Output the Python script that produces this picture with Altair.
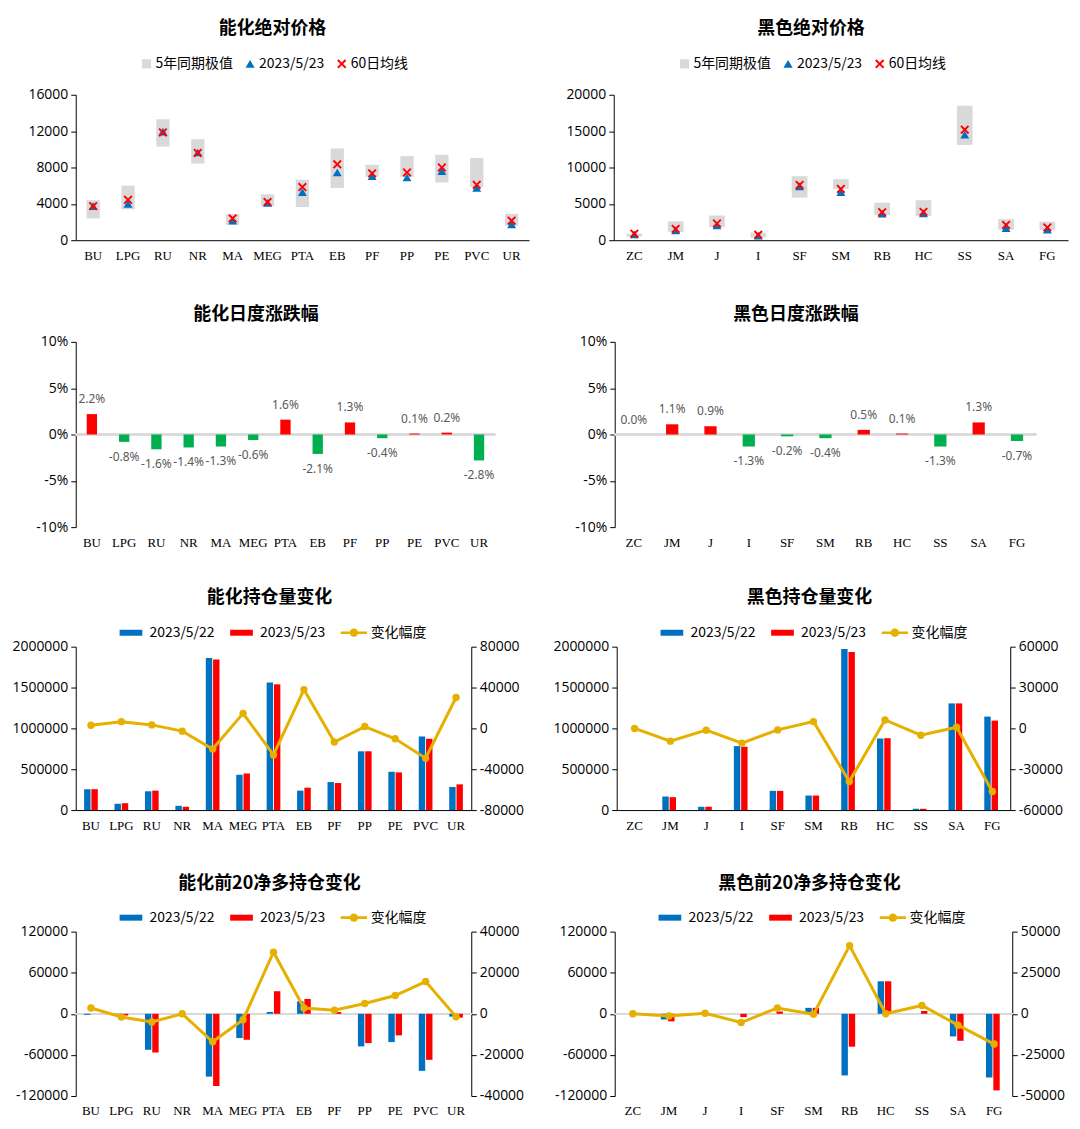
import altair as alt
import pandas as pd

# ---------------- data ----------------
chem_cats = ["BU", "LPG", "RU", "NR", "MA", "MEG", "PTA", "EB", "PF", "PP", "PE", "PVC", "UR"]
black_cats = ["ZC", "JM", "J", "I", "SF", "SM", "RB", "HC", "SS", "SA", "FG"]

# absolute price: 5y range, latest, 60-day MA
chem_hi = [4400, 6000, 13300, 11100, 2900, 5050, 6650, 10100, 8300, 9250, 9400, 9050, 2900]
chem_lo = [2400, 3400, 10300, 8450, 1700, 3750, 3650, 5750, 7000, 6950, 6350, 5850, 1600]
chem_now = [3750, 4000, 11950, 9650, 2150, 4100, 5300, 7450, 7050, 6900, 7600, 5750, 1750]
chem_ma60 = [3750, 4450, 11850, 9600, 2400, 4200, 5850, 8350, 7350, 7450, 8000, 6100, 2150]

black_hi = [900, 2600, 3400, 1050, 8800, 8400, 5150, 5500, 18500, 2900, 2550]
black_lo = [500, 1150, 1800, 370, 5850, 7050, 3450, 3350, 13100, 1450, 1400]
black_now = [800, 1350, 2050, 620, 7400, 6600, 3650, 3700, 14500, 1650, 1450]
black_ma60 = [900, 1550, 2300, 750, 7600, 7050, 3850, 3900, 15200, 2100, 1750]

# daily change (%)
chem_chg = [2.2, -0.8, -1.6, -1.4, -1.3, -0.6, 1.6, -2.1, 1.3, -0.4, 0.1, 0.2, -2.8]
black_chg = [0.0, 1.1, 0.9, -1.3, -0.2, -0.4, 0.5, 0.1, -1.3, 1.3, -0.7]

# open interest
chem_oi_prev = [255000, 77000, 230000, 52000, 1862000, 432000, 1563000, 238000, 343000, 719000, 469000, 901000, 283000]
chem_oi_now = [256000, 84000, 238000, 40000, 1842000, 448000, 1539000, 274000, 331000, 720000, 461000, 873000, 315000]
chem_oi_diff = [3000, 6600, 3400, -2700, -20200, 14700, -26000, 38000, -13400, 1800, -10200, -29200, 30200]

black_oi_prev = [0, 166000, 40000, 783000, 235000, 178000, 1972000, 876000, 16000, 1306000, 1144000]
black_oi_now = [0, 158000, 40000, 775000, 235000, 178000, 1935000, 880000, 16000, 1306000, 1095000]
black_oi_diff = [0, -9400, -1300, -10800, -1100, 5000, -39000, 6200, -5000, 850, -46400]

# top-20 net long
chem_net_prev = [-1500, -500, -52500, 0, -91700, -35400, 2700, 18300, 0, -47600, -41300, -83300, -4100]
chem_net_now = [0, -2500, -56500, 0, -105400, -37900, 33000, 21700, 2700, -42800, -31500, -67200, -5600]
chem_net_diff = [2850, -1550, -4000, 0, -13600, -2850, 30000, 2850, 1700, 5000, 8900, 15700, -1400]

black_net_prev = [0, -8300, 0, 0, 0, 8700, -90000, 47500, 0, -33000, -93000]
black_net_now = [0, -11000, 0, -4800, 3400, 8700, -48000, 47500, 4100, -39400, -111800]
black_net_diff = [0, -1300, 300, -5300, 3500, -300, 41500, 0, 5100, -6900, -18400]

PRICE_SERIES = ["5年同期极值", "2023/5/23", "60日均线"]
OI_SERIES = ["2023/5/22", "2023/5/23", "变化幅度"]

# ---------------- style ----------------
BLUE = "#0070C0"
RED = "#FF0000"
GREEN = "#00B050"
GOLD = "#E6B000"
BOX = "#D9D9D9"
ZERO = "#D9D9D9"
NUM = "Open Sans"
CAT = "Liberation Serif"
CJK = "Noto Sans CJK SC"

XPATH = "M0,-0.3L0.7,-1L1,-0.7L0.3,0L1,0.7L0.7,1L0,0.3L-0.7,1L-1,0.7L-0.3,0L-1,-0.7L-0.7,-1Z"
RECTPATH = "M-1,-0.5L2.8,-0.5L2.8,0.5L-1,0.5Z"
LINEPATH = "M-1,-0.22L3.4,-0.22L3.4,0.22L-1,0.22Z M0.5,0 A0.7,0.7 0 1,1 1.9,0 A0.7,0.7 0 1,1 0.5,0 Z"


def xaxis(domain):
    return alt.Axis(title=None, labelAngle=0, labelFont=CAT, labelFontSize=13, labelColor="black",
                    domain=domain, domainColor="black", domainWidth=1, ticks=False, labelPadding=9)


def yaxis(values, extent, orient="left", expr="'' + datum.value"):
    return alt.Axis(title=None, values=values, orient=orient, grid=False, domain=True,
                    domainColor="black", domainWidth=1, ticks=True, tickColor="black", tickSize=5,
                    labelFont=NUM, labelFontSize=14, labelColor="black", labelPadding=3,
                    labelExpr=expr, minExtent=extent, maxExtent=extent)


def xenc(cats, pad, domain):
    return alt.X("cat:N", sort=cats,
                 scale=alt.Scale(domain=cats, paddingInner=pad, paddingOuter=pad / 2),
                 axis=xaxis(domain))


def ttl(text, offset):
    return alt.TitleParams(text=text, font=CJK, fontSize=18, fontWeight="bold", color="black",
                           anchor="middle", frame="bounds", offset=offset)


def price_panel(title, cats, lo, hi, now, ma, ymax, step, w, h):
    n = len(cats)
    box_df = pd.DataFrame({"cat": cats, "lo": lo, "hi": hi})
    pt_df = pd.DataFrame({"cat": cats + cats,
                          "pseries": [PRICE_SERIES[1]] * n + [PRICE_SERIES[2]] * n,
                          "v": now + ma})
    x = xenc(cats, 0.62, True)
    ysc = alt.Scale(domain=[0, ymax], nice=False)
    yax = yaxis(list(range(0, ymax + 1, step)), 60)
    boxes = alt.Chart(box_df).mark_bar(color=BOX).encode(
        x=x, y=alt.Y("lo:Q", scale=ysc, axis=yax), y2="hi:Q")
    leg = alt.Legend(title=None, orient="none", legendX=64, legendY=-38, direction="horizontal",
                     padding=0, labelFont=CJK, labelFontSize=14, labelColor="black", symbolSize=85,
                     labelOffset=2, columnPadding=10, symbolStrokeWidth=0, symbolOpacity=1)
    pts = alt.Chart(pt_df).mark_point(filled=True, opacity=1, size=80).encode(
        x=x, y=alt.Y("v:Q", scale=ysc, axis=yax),
        color=alt.Color("pseries:N", scale=alt.Scale(domain=PRICE_SERIES, range=[BOX, BLUE, RED]), legend=leg),
        shape=alt.Shape("pseries:N", scale=alt.Scale(domain=PRICE_SERIES, range=["square", "triangle-up", XPATH]),
                        legend=leg))
    return alt.layer(boxes, pts).properties(width=w, height=h, title=ttl(title, 19))


def change_panel(title, cats, vals, w, h):
    df = pd.DataFrame({"cat": cats, "v": vals, "label": [f"{v:.1f}%" for v in vals]})
    x = xenc(cats, 0.68, False)
    ysc = alt.Scale(domain=[-10, 10], nice=False)
    yax = yaxis([-10, -5, 0, 5, 10], 60, expr="datum.value + '%'")
    zero = alt.Chart(df).mark_rule(color=ZERO, strokeWidth=1.5).encode(
        y=alt.YDatum(0, scale=ysc, axis=yax))
    bars = alt.Chart(df).mark_bar().encode(
        x=x, y=alt.Y("v:Q", scale=ysc, axis=yax),
        color=alt.condition(alt.datum.v >= 0, alt.value(RED), alt.value(GREEN)))
    pos = alt.Chart(df).transform_filter(alt.datum.v >= 0).mark_text(
        dy=-15, font="Noto Sans", fontSize=12, color="#595959").encode(
        x=x, y=alt.Y("v:Q", scale=ysc, axis=yax), text="label:N")
    neg = alt.Chart(df).transform_filter(alt.datum.v < 0).mark_text(
        dy=15, font="Noto Sans", fontSize=12, color="#595959").encode(
        x=x, y=alt.Y("v:Q", scale=ysc, axis=yax), text="label:N")
    return alt.layer(zero, bars, pos, neg).properties(width=w, height=h, title=ttl(title, 11))


def oi_panel(title, cats, prev, now, diff, ldom, lvals, rdom, rvals, w, h, zero_line, pad, toff):
    n = len(cats)
    bar_df = pd.DataFrame({"cat": cats + cats,
                           "oseries": [OI_SERIES[0]] * n + [OI_SERIES[1]] * n,
                           "v": prev + now})
    line_df = pd.DataFrame({"cat": cats, "chg": diff})
    leg_df = pd.DataFrame({"cat": [cats[0]] * 3, "oseries": OI_SERIES, "chg": [None] * 3})
    x = xenc(cats, pad, not zero_line)
    lsc = alt.Scale(domain=ldom, nice=False, zero=False)
    rsc = alt.Scale(domain=rdom, nice=False, zero=False)
    lax = yaxis(lvals, 68)
    rax = yaxis(rvals, 60, orient="right")
    cscale = alt.Scale(domain=OI_SERIES, range=[BLUE, RED, GOLD])
    leg = alt.Legend(title=None, orient="none", legendX=43, legendY=-21, direction="horizontal",
                     padding=0, labelFont=CJK, labelFontSize=14, labelColor="black", symbolSize=144,
                     labelOffset=17, columnPadding=14, symbolStrokeWidth=0, symbolOpacity=1)
    bars = alt.Chart(bar_df).mark_bar().encode(
        x=x,
        xOffset=alt.XOffset("oseries:N", sort=OI_SERIES[:2], scale=alt.Scale(paddingInner=0.12)),
        y=alt.Y("v:Q", scale=lsc, axis=lax),
        color=alt.Color("oseries:N", scale=cscale, legend=leg))
    left_layers = [bars]
    if zero_line:
        zero = alt.Chart(line_df).mark_rule(color=ZERO, strokeWidth=1.5).encode(
            y=alt.YDatum(0, scale=lsc, axis=lax))
        left_layers = [zero, bars]
    line = alt.Chart(line_df).mark_line(color=GOLD, strokeWidth=3).encode(
        x=x, y=alt.Y("chg:Q", scale=rsc, axis=rax))
    dots = alt.Chart(line_df).mark_point(filled=True, color=GOLD, opacity=1, size=55).encode(
        x=x, y=alt.Y("chg:Q", scale=rsc, axis=rax))
    legl = alt.Chart(leg_df).mark_point(filled=True, opacity=1).encode(
        x=x, y=alt.Y("chg:Q", scale=rsc, axis=rax),
        color=alt.Color("oseries:N", scale=cscale, legend=leg),
        shape=alt.Shape("oseries:N", scale=alt.Scale(domain=OI_SERIES, range=[RECTPATH, RECTPATH, LINEPATH]),
                        legend=leg))
    left = alt.layer(*left_layers)
    right = alt.layer(line, dots, legl)
    return alt.layer(left, right).resolve_scale(y="independent").properties(
        width=w, height=h, title=ttl(title, toff))


def indep(c):
    return c.resolve_scale(color="independent", shape="independent").resolve_legend(
        color="independent", shape="independent")


p1 = price_panel("能化绝对价格", chem_cats, chem_lo, chem_hi, chem_now, chem_ma60, 16000, 4000, 455, 146)
p2 = price_panel("黑色绝对价格", black_cats, black_lo, black_hi, black_now, black_ma60, 20000, 5000, 456, 146)
p3 = change_panel("能化日度涨跌幅", chem_cats, chem_chg, 421, 186)
p4 = change_panel("黑色日度涨跌幅", black_cats, black_chg, 423, 186)
p5 = oi_panel("能化持仓量变化", chem_cats, chem_oi_prev, chem_oi_now, chem_oi_diff,
              [0, 2000000], [0, 500000, 1000000, 1500000, 2000000],
              [-80000, 80000], [-80000, -40000, 0, 40000, 80000], 397, 164, False, 0.55, 19)
p6 = oi_panel("黑色持仓量变化", black_cats, black_oi_prev, black_oi_now, black_oi_diff,
              [0, 2000000], [0, 500000, 1000000, 1500000, 2000000],
              [-60000, 60000], [-60000, -30000, 0, 30000, 60000], 395, 164, False, 0.55, 19)
p7 = oi_panel("能化前20净多持仓变化", chem_cats, chem_net_prev, chem_net_now, chem_net_diff,
              [-120000, 120000], [-120000, -60000, 0, 60000, 120000],
              [-40000, 40000], [-40000, -20000, 0, 20000, 40000], 397, 165, True, 0.55, 18)
p8 = oi_panel("黑色前20净多持仓变化", black_cats, black_net_prev, black_net_now, black_net_diff,
              [-120000, 120000], [-120000, -60000, 0, 60000, 120000],
              [-50000, 50000], [-50000, -25000, 0, 25000, 50000], 399, 165, True, 0.55, 18)

row1 = indep(alt.hconcat(p1, p2, spacing=25))
row2 = indep(alt.hconcat(p3, p4, spacing=59))
row3 = indep(alt.hconcat(p5, p6, spacing=18))
row4 = indep(alt.hconcat(p7, p8, spacing=16))

top = indep(alt.vconcat(row1, row2, spacing=44))
bottom = indep(alt.vconcat(row3, row4, spacing=43))

chart = indep(alt.vconcat(top, bottom, spacing=40)).properties(
    padding={"left": 0, "top": 10, "right": 0, "bottom": 0}, background="white"
).configure_view(stroke=None)

chart.save("out.html", embed_options={"renderer": "svg", "actions": False})
